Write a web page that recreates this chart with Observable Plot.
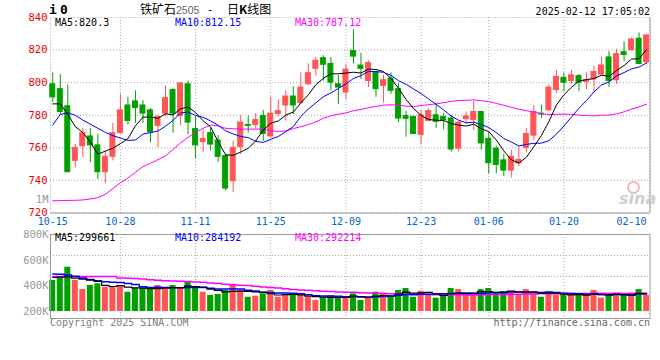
<!DOCTYPE html>
<html><head><meta charset="utf-8">
<script src="https://cdn.jsdelivr.net/npm/d3@7"></script>
<script src="https://cdn.jsdelivr.net/npm/@observablehq/plot@0.6"></script>
<style>
body{margin:0;background:#fff;}
#wrap{position:relative;width:660px;height:360px;overflow:hidden;background:#fff;font-family:"DejaVu Sans Mono",monospace;}
#wrap svg{position:absolute;left:0;}
.t{position:absolute;white-space:nowrap;font-size:10px;line-height:12px;}
</style></head><body>
<div id="wrap"></div>
<script>
// ---------- data ----------
const tickIdx    = [0, 9, 19, 29, 39, 49, 58, 68, 77];
const tickLabels = ["10-15","10-28","11-11","11-25","12-09","12-23","01-06","01-20","02-10"];
const gridIdx    = [9, 19, 29, 39, 49, 58, 68];
const priceTicks = [720, 740, 760, 780, 800, 820, 840];
const priceGrid  = [740, 760, 780, 800, 820];

const openP = [799,796,785.5,752,761,767,761.5,745,754.5,769, 786,788.5,786,783,773.5,781,795.5,779.5,799,771.5, 763.5,769,764.5,755,739.5,760.5,774,774,779.5,767, 780.8,786,791.5,787.5,799,808.5,815,811.5,799,794, 819.5,810.5,801,806.5,798,802.5,796,779.5,779,768, 776.5,780,779,778,759.5,777.5,777,782,765.5,759.5, 752.3,746,750.5,760,767.5,781,783,795.5,803,801, 804,800.5,802,805,815.5,801.5,818.7,820,827,812.5];
const highP = [806,805,798.5,762,772,772,768,758,775,793, 791,795,789,784,780,798,796.5,800,801,779, 771,772,767.5,756,764,780,779.5,781,783,791, 789.5,795,797.5,806,811.5,815.5,816.5,815.5,804.5,811, 832.5,818,813.5,807,804.5,806,799.5,782.5,779.5,783, 784,787,781,780,776,782,788.5,782.5,769.5,761, 756,758.5,760.5,772,786,786,798.5,807.5,806,807.5, 805,806,810,815.5,819,820.5,825,827.5,830.5,829.5];
const lowP = [788,780,745,747.5,754,751,740.5,738,752,768.5, 774,775,775,763,760,779,769,773.5,768,753, 757,758,751,733.5,732.5,756,769,771.5,764,766.5, 779,776.5,780.5,786.5,798.5,804,801,795,786.5,789.5, 811.5,802,797,791,787.5,793,775.5,766.5,768,761.7, 776,772,771,757.5,757.5,774.5,770.5,758.5,744,744, 742.5,741.5,748.5,757,764.5,778,782.5,793.5,794.5,799, 794.5,795.5,793.5,804.5,797,799,813,819.5,811,811.5];
const closeP = [791,782,745,760,769,761.5,745,754.5,769,783, 776.5,784.5,781,769.5,779,790.5,781,799.5,775.5,761.5, 765.5,762,754.5,735,760,775.5,773.5,777,768.5,781, 782.5,791.5,786,797,805.8,813.5,811,800,797,808, 816,808.5,812,796,801.5,795,778,777.8,768.5,780, 782.5,776,777,759,775.5,779.3,782,762.7,750.5,749.5, 746,754.5,752.5,768.5,782,780.5,797,803.5,800,804.5, 800,801.5,806.5,810.5,801,817.5,817,826.5,811.5,829];
// volume in thousands
const volK = [442,460,545,442,371,403,416,389,395,403, 350,382,382,371,403,371,403,382,428,389, 350,325,333,364,410,364,311,319,338,364, 311,325,325,325,317,286,305,321,317,317, 338,286,307,350,343,317,364,379,311,358, 333,304,317,379,371,325,325,371,379,350, 343,356,325,371,356,311,350,330,325,330, 325,330,364,304,325,343,325,343,371,325];

const ma5Early  = [787, 787, 780.5, 773];
const ma10Early = [774, 780.5, 781.5, 780, 777, 774.5, 772, 769.5, 767.5];
const ma30Early = [727.5,727.6,727.7,727.8,728,728.6,729.4,731.5,735,738.5,741.5,745,748.5,750.5,752.8,755,759,763,766.5,769.5,772,774,773.5,772,771.7,771.5,771.5,771.5,771.5];
const vma5Early  = [465, 468, 470, 460];
const vma10Early = [493, 490, 485, 474, 462, 450, 440, 432, 428];
const vma30Early = [473,473,473,473,473,473,473,473,473,462,460,457,454,448,443,440,437,435,433,430,427,423,418,413,409,405,402,396,390];

const priceMaLabels = ["MA5:820.3", "MA10:812.15", "MA30:787.12"];
const volMaLabels   = ["MA5:299661", "MA10:284192", "MA30:292214"];
const volTicks      = [200000, 400000, 600000, 800000];
const volTickLabels = ["200K", "400K", "600K", "800K"];
const volTopTick    = [1000000];
const volTopLabel   = ["1M"];

// ---------- derived ----------
const n = closeP.length;
const idx = d3.range(n);
const RED = "#ff5555", GREEN = "#00a000";
const up = idx.map(i => closeP[i] >= openP[i]);
const col = i => up[i] ? RED : GREEN;
function ma(arr, k, early) {
  return arr.map((_, i) => i < k - 1 ? early[i] : d3.mean(arr.slice(i - k + 1, i + 1)));
}
const ma5 = ma(closeP, 5, ma5Early), ma10 = ma(closeP, 10, ma10Early), ma30 = ma(closeP, 30, ma30Early);
const vol = volK.map(v => v * 1000);
const vma5 = ma(volK, 5, vma5Early).map(v => v * 1000);
const vma10 = ma(volK, 10, vma10Early).map(v => v * 1000);
const vma30 = ma(volK, 30, vma30Early).map(v => v * 1000);

const xDomain = [-0.3, 79.45];
const dotted = {stroke: "#aaa", strokeDasharray: "1,2"};
const baseStyle = {background: "transparent", fontFamily: "DejaVu Sans Mono", fontSize: "10px", overflow: "visible"};

// ---------- price panel ----------
const pricePlot = Plot.plot({
  width: 660, height: 230,
  marginLeft: 50, marginRight: 10.5, marginTop: 17, marginBottom: 17.5,
  style: baseStyle,
  x: {domain: xDomain},
  y: {domain: [priceTicks[0], priceTicks[priceTicks.length - 1]]},
  color: {type: "identity"},
  marks: [
    Plot.ruleY(priceGrid, dotted),
    Plot.ruleX(gridIdx, dotted),
    Plot.frame(dotted),
    Plot.ruleY([priceTicks[0]], {stroke: "#999"}),
    Plot.ruleX([xDomain[1]], {stroke: "#999"}),
    Plot.axisY(priceTicks, {tickSize: 0, tickPadding: 3, color: "#ee0000", label: null, fontSize: 10.5}),
    Plot.axisX(tickIdx, {tickSize: 0, tickPadding: 5, color: "#0066cc", label: null,
      tickFormat: d => tickLabels[tickIdx.indexOf(d)]}),
    Plot.ruleX(idx, {x: i => i, y1: i => lowP[i], y2: i => highP[i], stroke: col}),
    Plot.rect(idx, {x1: i => i - 0.33, x2: i => i + 0.33, y1: i => openP[i], y2: i => closeP[i],
      fill: col, stroke: col, strokeWidth: 1}),
    Plot.line(idx, {x: i => i, y: i => ma30[i], stroke: "#ff00ff", strokeWidth: 1}),
    Plot.line(idx, {x: i => i, y: i => ma10[i], stroke: "#0000ff", strokeWidth: 1}),
    Plot.line(idx, {x: i => i, y: i => ma5[i], stroke: "#000", strokeWidth: 1})
  ]
});

// ---------- volume panel ----------
const vTop = 190, vH = 170;
const vDomain = [volTicks[0], volTicks[volTicks.length - 1]];
const vRange = [121, 44];
const vMarginTop = 44, vMarginBottom = 42;
const frameTop = vMarginTop, frameBot = vH - vMarginBottom;
const pxToVol = px => vDomain[0] + (px - vRange[0]) * (vDomain[1] - vDomain[0]) / (vRange[1] - vRange[0]);
const volGrid = [0.25, 0.5].map(f => pxToVol(frameTop + f * (frameBot - frameTop)));
const fmtK = d => volTickLabels[volTicks.indexOf(d)];

const volPlot = Plot.plot({
  width: 660, height: vH,
  marginLeft: 50, marginRight: 10.5, marginTop: vMarginTop, marginBottom: vMarginBottom,
  style: baseStyle,
  x: {domain: xDomain, axis: null},
  y: {domain: vDomain, range: vRange, axis: null},
  color: {type: "identity"},
  marks: [
    Plot.ruleY(volGrid, dotted),
    Plot.ruleX(gridIdx, dotted),
    Plot.rect(idx, {x1: i => i - 0.4, x2: i => i + 0.4, y1: () => vDomain[0], y2: i => vol[i], fill: col}),
    Plot.line(idx, {x: i => i, y: i => vma30[i], stroke: "#ff00ff", strokeWidth: 1.5, curve: "step"}),
    Plot.line(idx, {x: i => i, y: i => vma10[i], stroke: "#0000ff", strokeWidth: 1.5, curve: "step"}),
    Plot.line(idx, {x: i => i, y: i => vma5[i], stroke: "#000", strokeWidth: 1.2, curve: "step"}),
    Plot.frame({stroke: "#999"}),
    Plot.text(volTicks, {y: d => d, text: fmtK, frameAnchor: "left", textAnchor: "end", dx: -2,
      fill: "#999", fontSize: 10.5}),
    Plot.text(volTopTick, {y: d => d, text: (d, i) => volTopLabel[i], frameAnchor: "left", textAnchor: "end",
      dx: -2, dy: -9, fill: "#999", fontSize: 10.5})
  ]
});

const wrap = document.getElementById("wrap");
pricePlot.style.top = "0px";
volPlot.style.top = vTop + "px";
wrap.appendChild(pricePlot);
wrap.appendChild(volPlot);

function addText(html, css) {
  const d = document.createElement("div");
  d.className = "t";
  d.innerHTML = html;
  Object.assign(d.style, css);
  wrap.appendChild(d);
  return d;
}
// header
addText("i", {left: "49px", top: "2px", fontSize: "13px", lineHeight: "15px", fontWeight: "bold"});
addText("0", {left: "60px", top: "2px", fontSize: "13px", lineHeight: "15px", fontWeight: "bold"});
addText('铁矿石<span style="font-family:\'Liberation Sans\';font-size:10.5px;color:#666">2505</span>',
  {left: "140px", top: "2px", fontFamily: "'Noto Sans CJK SC'", fontSize: "12px", lineHeight: "14px"});
addText("-", {left: "208px", top: "2px", fontFamily: "'Noto Sans CJK SC'", fontSize: "12px", lineHeight: "14px"});
addText("日<b>K</b>线图", {left: "227px", top: "2px", fontFamily: "'Noto Sans CJK SC'", fontSize: "12px", lineHeight: "14px"});
addText("2025-02-12 17:05:02", {right: "10px", top: "6px"});
// MA legends
const maColors = ["#000", "#0000ff", "#ff00ff"];
const maLeft = [55, 175, 295];
priceMaLabels.forEach((s, k) => addText(s, {left: maLeft[k] + "px", top: "17px", color: maColors[k]}));
volMaLabels.forEach((s, k) => addText(s, {left: maLeft[k] + "px", top: "232px", color: maColors[k]}));
// footer
addText("Copyright 2025 SINA.COM", {left: "50px", top: "317px", color: "#808080"});
addText("http://finance.sina.com.cn", {right: "10px", top: "317px", color: "#666"});
// watermark
addText("", {left: "627px", top: "181px", width: "9px", height: "9px", borderRadius: "50%", border: "2px solid #f4b8b8"});
addText("sina", {left: "619px", top: "190px", fontFamily: "'DejaVu Sans'", fontSize: "16px", lineHeight: "18px",
  fontStyle: "italic", fontWeight: "bold", color: "#cfcfcf"});
</script>
</body></html>
